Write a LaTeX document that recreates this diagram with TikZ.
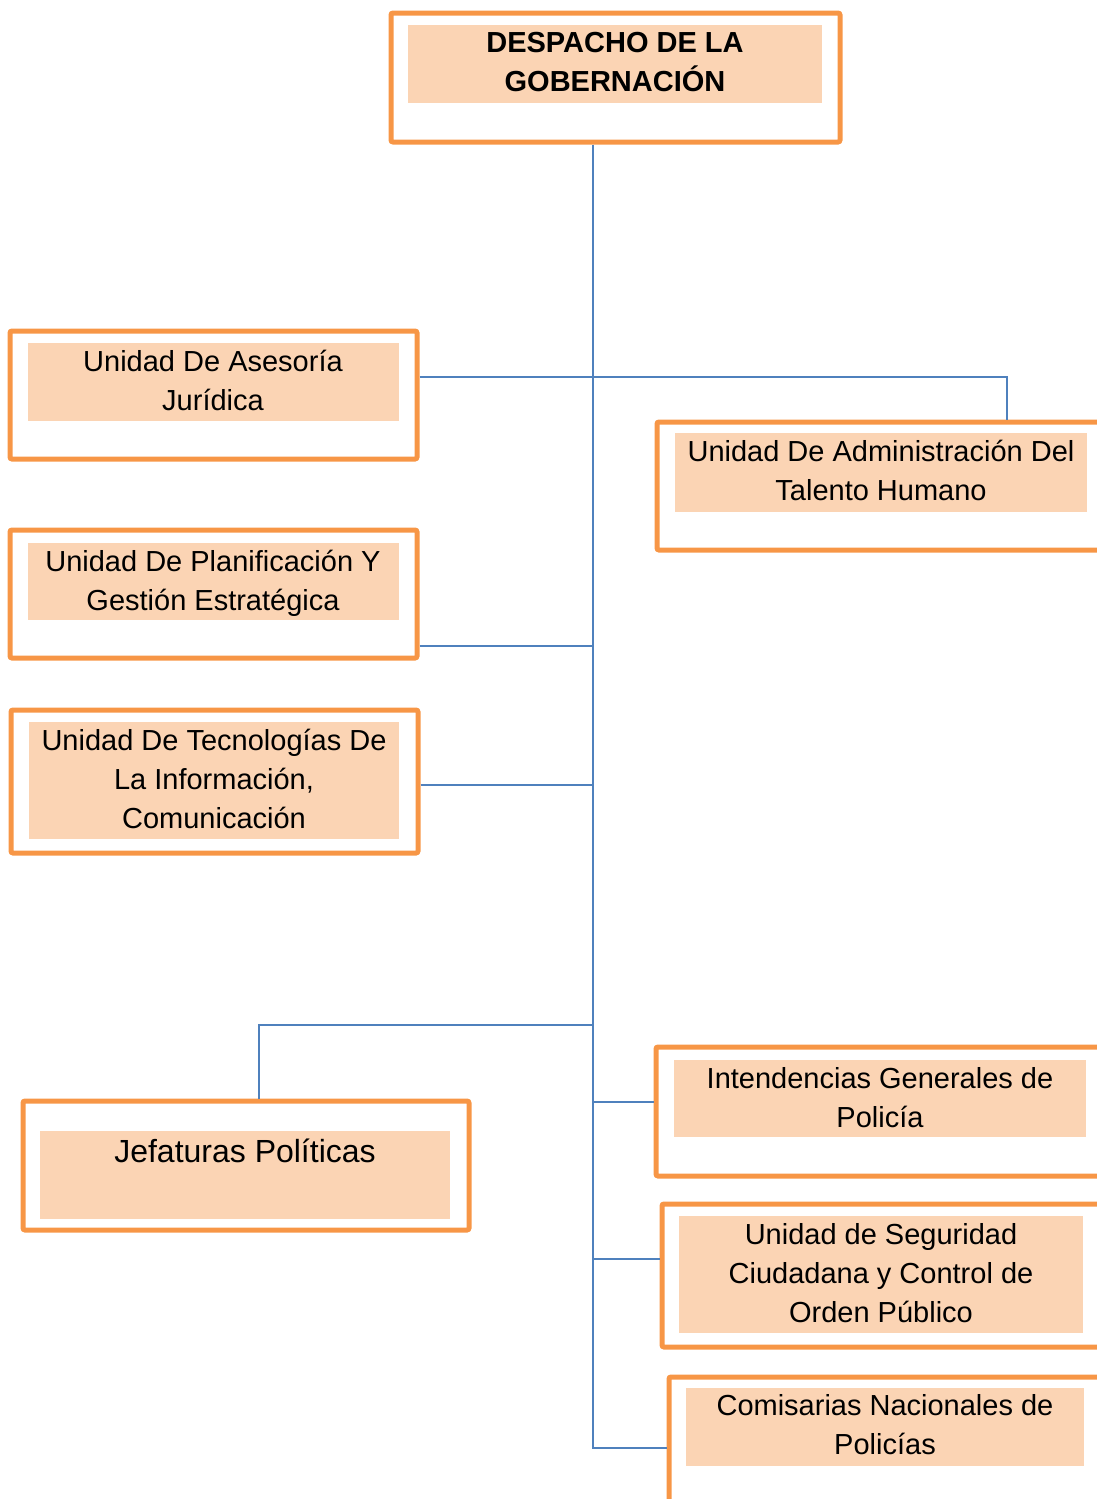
\documentclass[tikz,border=0pt]{standalone}
\usepackage{fontspec}
\setmainfont{Liberation Sans}
\usetikzlibrary{calc}
\definecolor{orgline}{HTML}{F79646}
\definecolor{orgfill}{HTML}{FBD4B4}
\definecolor{linkblue}{HTML}{4F81BD}
\tikzset{
  unitbox/.style={draw=orgline, line width=2.5pt, rounded corners=1pt, inner sep=0pt},
  unitlbl/.style={font=\fontsize{14.5}{19.5}\selectfont, align=center, inner sep=0pt, anchor=base},
  link/.style={draw=linkblue, line width=1pt}
}

\begin{document}
\begin{tikzpicture}[x=0.5pt,y=-0.5pt]
            \useasboundingbox (0,0) rectangle (1097,1499);
            \clip (0,0) rectangle (1097,1499);
            \node[unitbox, minimum width=224.5pt, minimum height=64.5pt] (despacho) at (615.5,77.5) {};
            \node[unitbox, minimum width=203.5pt, minimum height=64pt] (asesoria) at (213.5,395) {};
            \node[unitbox, minimum width=226.5pt, minimum height=64pt] (talento) at (883.5,486) {};
            \node[unitbox, minimum width=203.5pt, minimum height=64pt] (planif) at (213.5,594) {};
            \node[unitbox, minimum width=203.5pt, minimum height=71.5pt] (tecno) at (214.5,781.5) {};
            \node[unitbox, minimum width=223pt, minimum height=64.5pt] (jefaturas) at (246,1165.5) {};
            \node[unitbox, minimum width=227pt, minimum height=64.5pt] (intend) at (883,1111.5) {};
            \node[unitbox, minimum width=224pt, minimum height=71.5pt] (seguridad) at (886,1275.5) {};
            \node[unitbox, minimum width=220.5pt, minimum height=76.5pt] (comisarias) at (889.5,1453.5) {};
            \fill[orgfill] (408,25) rectangle (822,103);
            \fill[orgfill] (28,343) rectangle (399,421);
            \fill[orgfill] (675,433) rectangle (1087,512);
            \fill[orgfill] (28,543) rectangle (399,620);
            \fill[orgfill] (29,722) rectangle (399,839);
            \fill[orgfill] (40,1131) rectangle (450,1219);
            \fill[orgfill] (674,1060) rectangle (1086,1137);
            \fill[orgfill] (679,1216) rectangle (1083,1333);
            \fill[orgfill] (686,1388) rectangle (1084,1466);
            \node[unitlbl, font=\bfseries\fontsize{14.5}{19.5}\selectfont] (despacho-t) at (615,91) {DESPACHO DE LA\\GOBERNACIÓN};
            \node[unitlbl] (asesoria-t) at (213,410) {Unidad De Asesoría\\Jurídica};
            \node[unitlbl] (talento-t) at (881,500) {Unidad De Administración Del\\Talento Humano};
            \node[unitlbl] (planif-t) at (213,610) {Unidad De Planificación Y\\Gestión Estratégica};
            \node[unitlbl] (tecno-t) at (214,828) {Unidad De Tecnologías De\\La Información,\\Comunicación};
            \node[unitlbl, font=\fontsize{16}{19.5}\selectfont] (jefaturas-t) at (245,1162) {Jefaturas Políticas};
            \node[unitlbl] (intend-t) at (880,1127) {Intendencias Generales de\\Policía};
            \node[unitlbl] (seguridad-t) at (881,1322) {Unidad de Seguridad\\Ciudadana y Control de\\Orden Público};
            \node[unitlbl] (comisarias-t) at (885,1454) {Comisarias Nacionales de\\Policías};
            \coordinate (trunk) at (593,1448);
            \coordinate (elbowA) at (1007,377);
            \coordinate (elbowB) at (259,1025);
            \draw[link] (despacho.south -| trunk) -- (trunk) -- (trunk -| comisarias.west);
            \draw[link] (asesoria.east |- elbowA) -- (elbowA) -- (elbowA |- talento.north);
            \draw[link] (planif.east |- 0,646) -- (trunk |- 0,646);
            \draw[link] (tecno.east |- 0,785) -- (trunk |- 0,785);
            \draw[link] (trunk |- elbowB) -- (elbowB) -- (elbowB |- jefaturas.north);
            \draw[link] (trunk |- 0,1102) -- (intend.west |- 0,1102);
            \draw[link] (trunk |- 0,1259) -- (seguridad.west |- 0,1259);
        \end{tikzpicture}
\end{document}
